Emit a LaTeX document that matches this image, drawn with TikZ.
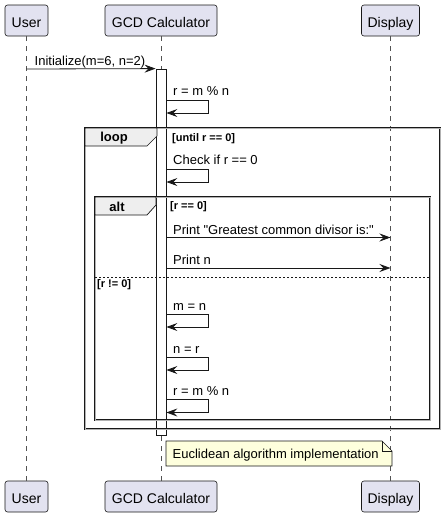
\documentclass[tikz,border=0pt]{standalone}
\usepackage{fontspec}
\setmainfont{Liberation Sans}[Ligatures=TeXOff]
\usetikzlibrary{arrows.meta}
\definecolor{pline}{HTML}{181818}
\definecolor{pfill}{HTML}{E2E2F0}
\definecolor{nfill}{HTML}{FEFFDD}
\definecolor{tabfill}{HTML}{EEEEEE}
\begin{document}
\begin{tikzpicture}[x=1pt,y=-1pt,
  part/.style={draw=pline, fill=pfill, rounded corners=2.5pt, line width=0.6pt,
    minimum height=31pt, inner sep=0pt, text height=14pt, text depth=0pt,
    font=\fontsize{14}{16}\selectfont},
  lifeline/.style={draw=pline!75, dash pattern=on 5pt off 5pt, line width=0.6pt},
  msg/.style={draw=pline, line width=0.8pt, -{Stealth[length=11pt,width=8pt,inset=4pt]}},
  msgtxt/.style={font=\fontsize{13}{15}\selectfont, anchor=base west, inner sep=0pt},
  guardtxt/.style={font=\fontsize{11}{13}\selectfont\bfseries, anchor=base west, inner sep=0pt},
  tabtxt/.style={font=\fontsize{13}{15}\selectfont\bfseries, anchor=base, inner sep=0pt},
  grpframe/.style={draw=pline, line width=0.9pt, double=gray!60, double distance=0.5pt},
  grptab/.style={draw=pline, line width=0.7pt, fill=tabfill},
  actbar/.style={draw=pline, fill=white, line width=0.8pt, minimum width=10pt, inner sep=0pt},
  notebox/.style={draw=pline, fill=nfill, line width=0.6pt}
]
\useasboundingbox (0,0) rectangle (445,517);

% participants
\node[part, minimum width=43pt]  (userT) at (26.5,20.5) {User};
\node[part, minimum width=112pt] (gcdT)  at (161,20.5) {GCD Calculator};
\node[part, minimum width=58pt]  (dispT) at (390.5,20.5) {Display};
\node[part, minimum width=43pt]  (userB) at (26.5,496.5) {User};
\node[part, minimum width=112pt] (gcdB)  at (161,496.5) {GCD Calculator};
\node[part, minimum width=58pt]  (dispB) at (390.5,496.5) {Display};

% lifelines
\draw[lifeline] (userT) -- (userB);
\draw[lifeline] (gcdT) -- (gcdB);
\draw[lifeline] (dispT) -- (dispB);

% activation bar
\node[actbar, minimum height=366pt] (act) at (161,252) {};

% initialize
\coordinate (u1) at (26.5,69);
\draw[msg] (u1) -- (act.north west);
\node[msgtxt] (t1) at (34.5,65) {Initialize(m=6, n=2)};

% r = m % n
\node[msgtxt] (t2) at (173,95.5) {r = m \% n};
\draw[msg] (act.east |- 0,100) -- ++(42,0) -- ++(0,13) -- (act.east |- 0,113);

% loop frame
\draw[grpframe] (85,128) rectangle (440,429);
\draw[grptab] (85,128) -- (157,128) -- (157,136) -- (147,146) -- (85,146) -- cycle;
\node[tabtxt] (loopl) at (114,141.5) {loop};
\node[guardtxt] (g1) at (172,141.5) {[until r == 0]};

% check
\node[msgtxt] (t3) at (173,164) {Check if r == 0};
\draw[msg] (act.east |- 0,169.5) -- ++(42,0) -- ++(0,12.5) -- (act.east |- 0,182);

% alt frame
\draw[grpframe] (95,197) rectangle (430,420);
\draw[grptab] (95,197) -- (156,197) -- (156,205) -- (147,215) -- (95,215) -- cycle;
\node[tabtxt] (altl) at (117,211) {alt};
\node[guardtxt] (g2) at (170,209.5) {[r == 0]};

% prints
\node[msgtxt] (t4) at (173,234) {Print "Greatest common divisor is:"};
\draw[msg] (act.east |- 0,237.5) -- (dispT.south |- 0,237.5);
\node[msgtxt] (t5) at (173,264) {Print n};
\draw[msg] (act.east |- 0,268) -- (dispT.south |- 0,268);

% else separator
\draw[draw=pline, line width=0.7pt, dash pattern=on 2pt off 2pt] (95,277.5) -- (430,277.5);
\node[guardtxt] (g3) at (97,287.5) {[r != 0]};

% m = n
\node[msgtxt] (t6) at (173,310) {m = n};
\draw[msg] (act.east |- 0,314.5) -- ++(42,0) -- ++(0,12.5) -- (act.east |- 0,327);
% n = r
\node[msgtxt] (t7) at (173,353) {n = r};
\draw[msg] (act.east |- 0,357.5) -- ++(42,0) -- ++(0,12.5) -- (act.east |- 0,370);
% r = m % n
\node[msgtxt] (t8) at (173,395) {r = m \% n};
\draw[msg] (act.east |- 0,399.5) -- ++(42,0) -- ++(0,13) -- (act.east |- 0,412.5);

% note
\draw[notebox] (166,441) -- (382,441) -- (392,451) -- (392,466) -- (166,466) -- cycle;
\draw[draw=pline, line width=0.6pt] (382,441) -- (382,451) -- (392,451);
\node[msgtxt] (note) at (172.5,458.5) {Euclidean algorithm implementation};
\end{tikzpicture}
\end{document}
